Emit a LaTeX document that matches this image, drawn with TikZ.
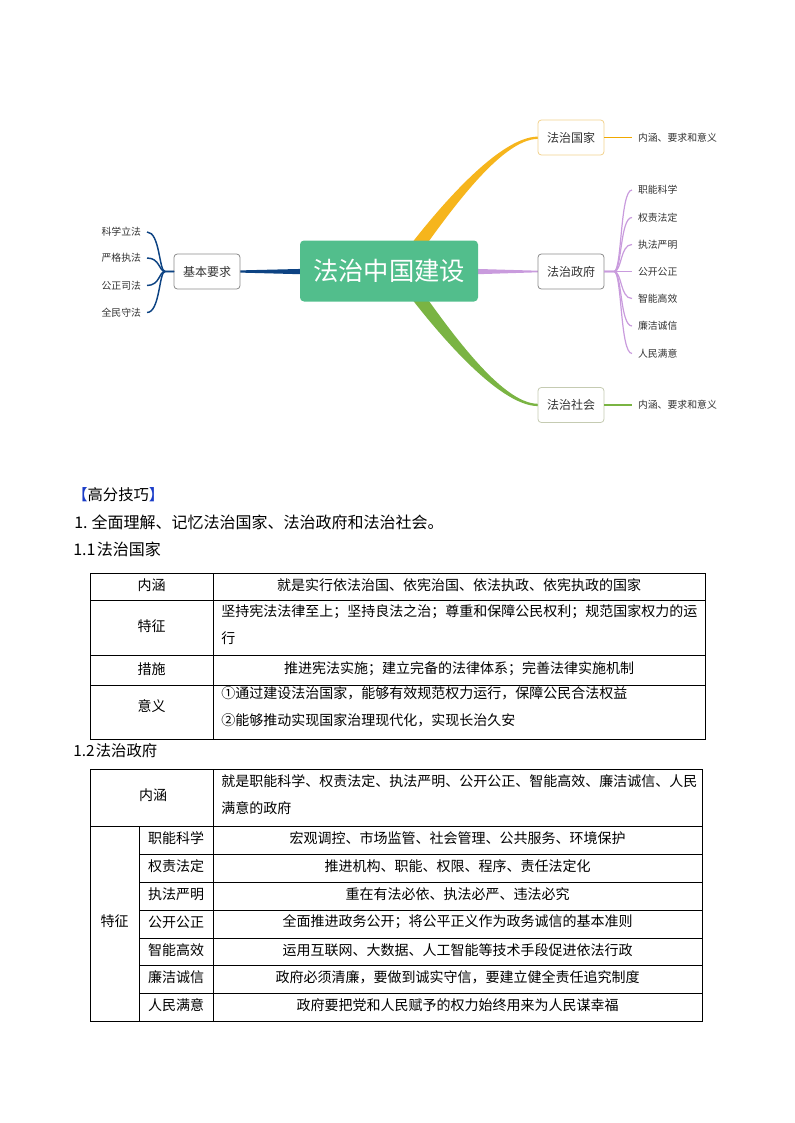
\documentclass[tikz,border=0pt]{standalone}
\usepackage{fontspec}
\setmainfont{Noto Sans CJK SC}
\usetikzlibrary{calc,backgrounds}
\definecolor{cgreen}{HTML}{52BE8C}
\definecolor{byellow}{HTML}{F6B51C}
\definecolor{lyellow}{HTML}{F0A800}
\definecolor{bgreen}{HTML}{7AB443}
\definecolor{bpurple}{HTML}{C99BDD}
\definecolor{bblue}{HTML}{0D4383}
\definecolor{tgray}{HTML}{333333}
\definecolor{boxgray}{HTML}{8C8C8C}
\definecolor{boxyellow}{HTML}{F2D28E}
\definecolor{boxgreen}{HTML}{C5CBB2}
\definecolor{brk}{HTML}{1A3CC8}
\tikzset{
  mmbox/.style={draw, rounded corners=2.5pt, fill=white, minimum width=49.5pt, minimum height=26.25pt,
    inner sep=0pt, outer sep=0pt, font=\fontsize{9}{11}\selectfont, text=tgray, line width=0.6pt},
  leafr/.style={anchor=west, inner xsep=4.5pt, inner ysep=0pt, outer sep=0pt, font=\fontsize{7.4}{9}\selectfont, text=tgray},
  leafl/.style={anchor=east, inner xsep=4.5pt, inner ysep=0pt, outer sep=0pt, font=\fontsize{7.4}{9}\selectfont, text=tgray},
  cell/.style={inner sep=0pt, font=\fontsize{10.5}{13}\selectfont},
  cellw/.style={cell, anchor=west},
  tbl/.style={line width=0.6pt, draw=black},
  head/.style={anchor=west, inner sep=0pt, font=\fontsize{11.5}{13}\selectfont},
  pline/.style={bpurple, line width=0.9pt},
  bline/.style={bblue, line width=1.1pt},
}
\begin{document}
\begin{tikzpicture}[x=0.75pt,y=-0.75pt]
\useasboundingbox (0,0) rectangle (794,1123);

% ---------- mind map nodes ----------
\node[fill=cgreen, rounded corners=3pt, minimum width=133.5pt, minimum height=45.75pt, inner sep=0pt,
      text=white, font=\fontsize{19}{22}\selectfont] (c) at (389,271) {法治中国建设};
\node[mmbox, draw=boxgray] (jb) at (207,271.5) {基本要求};
\node[mmbox, draw=boxyellow] (gj) at (571,137.5) {法治国家};
\node[mmbox, draw=boxgray] (zf) at (571,271.5) {法治政府};
\node[mmbox, draw=boxgreen] (sh) at (571,405) {法治社会};

\node[leafr] (gjl) at (632,137.5) {内涵、要求和意义};
\node[leafr] (shl) at (632,405) {内涵、要求和意义};

\node[leafl] (l1) at (147,232) {科学立法};
\node[leafl] (l2) at (147,258) {严格执法};
\node[leafl] (l3) at (147,285.5) {公正司法};
\node[leafl] (l4) at (147,312.5) {全民守法};

\node[leafr] (p1) at (632,190) {职能科学};
\node[leafr] (p2) at (632,217.5) {权责法定};
\node[leafr] (p3) at (632,244.5) {执法严明};
\node[leafr] (p4) at (632,271.5) {公开公正};
\node[leafr] (p5) at (632,298.5) {智能高效};
\node[leafr] (p6) at (632,326) {廉洁诚信};
\node[leafr] (p7) at (632,353.5) {人民满意};

% ---------- mind map connectors ----------
\begin{scope}[on background layer]
  \fill[byellow] (393,268) .. controls (433,213) and (498,136.6) .. ($(gj.west)+(0,-0.9)$)
     -- ($(gj.west)+(0,1.4)$) .. controls (500,138.9) and (445,218) .. (407,272) -- cycle;
  \fill[bgreen] (393,274) .. controls (433,329) and (498,406.1) .. ($(sh.west)+(0,1.1)$)
     -- ($(sh.west)+(0,-1.2)$) .. controls (500,403.8) and (445,324) .. (407,270) -- cycle;
  \fill[bblue] ($(jb.east)+(0,-1.1)$) -- (315,268.6) -- (315,274.6) -- ($(jb.east)+(0,1.1)$) -- cycle;
  \fill[bpurple] (465,268.6) -- ($(zf.west)+(0,-0.8)$) -- ($(zf.west)+(0,0.8)$) -- (465,274.6) -- cycle;
\end{scope}

\draw[lyellow, line width=1.2pt] (gj.east) -- (gjl.west);
\draw[bgreen, line width=1pt] (sh.east) -- (shl.west);

\draw[pline] (zf.east) -- (p4.west);
\foreach \p in {p1,p2,p3,p5,p6,p7}{
  \draw[pline] (zf.east) -- ++(10,0)
     .. controls ++(8,0) and ($(\p.west)+(-12,0)$) .. (\p.west);
}
\foreach \l in {l1,l2,l3,l4}{
  \draw[bline] (jb.west) -- ++(-9,0)
     .. controls ++(-6,0) and ($(\l.east)+(13,0)$) .. (\l.east);
}

% ---------- headings ----------
\node[head] (h0) at (72,495) {\textcolor{brk}{【}高分技巧\textcolor{brk}{】}};
\node[head, font=\fontsize{12}{14}\selectfont] (h1) at (74,522) {1.\hspace{3pt}全面理解、记忆法治国家、法治政府和法治社会。};
\node[head, font=\fontsize{12}{14}\selectfont] (h2) at (73,549) {1.1\hspace{1pt}法治国家};
\node[head] (h3) at (73,751) {1.2\hspace{1pt}法治政府};

% ---------- table 1 ----------
\draw[tbl] (90,573) rectangle (705,739);
\draw[tbl] (90,600) -- (705,600);
\draw[tbl] (90,655) -- (705,655);
\draw[tbl] (90,685) -- (705,685);
\draw[tbl] (213,573) -- (213,739);
\node[cell] (a1) at (151.5,585.5) {内涵};
\node[cell] (a2) at (459,585.5) {就是实行依法治国、依宪治国、依法执政、依宪执政的国家};
\node[cell] (b1) at (151.5,626.5) {特征};
\node[cellw] (b2) at (221,612) {坚持宪法法律至上；坚持良法之治；尊重和保障公民权利；规范国家权力的运};
\node[cellw] (b3) at (221,638.5) {行};
\node[cell] (c1) at (151.5,669) {措施};
\node[cell] (c2) at (459,669) {推进宪法实施；建立完备的法律体系；完善法律实施机制};
\node[cell] (d1) at (151.5,706) {意义};
\node[cellw] (d2) at (221,693) {①通过建设法治国家，能够有效规范权力运行，保障公民合法权益};
\node[cellw] (d3) at (221,720) {②能够推动实现国家治理现代化，实现长治久安};

% ---------- table 2 ----------
\draw[tbl] (90,769) rectangle (702,1021);
\draw[tbl] (90,826) -- (702,826);
\foreach \yy in {854,882,910,938,965,993}{
  \draw[tbl] (139,\yy) -- (702,\yy);
}
\draw[tbl] (213,769) -- (213,1021);
\draw[tbl] (139,826) -- (139,1021);
\node[cell] (e1) at (153,795) {内涵};
\node[cellw] (e2) at (221,781) {就是职能科学、权责法定、执法严明、公开公正、智能高效、廉洁诚信、人民};
\node[cellw] (e3) at (221,808) {满意的政府};
\node[cell] (f0) at (114.5,921) {特征};
\node[cell] (f1) at (176,838) {职能科学};
\node[cell] (f2) at (176,866) {权责法定};
\node[cell] (f3) at (176,894) {执法严明};
\node[cell] (f4) at (176,922) {公开公正};
\node[cell] (f5) at (176,950) {智能高效};
\node[cell] (f6) at (176,977) {廉洁诚信};
\node[cell] (f7) at (176,1005) {人民满意};
\node[cell] (g1) at (457.5,838) {宏观调控、市场监管、社会管理、公共服务、环境保护};
\node[cell] (g2) at (457.5,866) {推进机构、职能、权限、程序、责任法定化};
\node[cell] (g3) at (457.5,894) {重在有法必依、执法必严、违法必究};
\node[cell] (g4) at (457.5,922) {全面推进政务公开；将公平正义作为政务诚信的基本准则};
\node[cell] (g5) at (457.5,950) {运用互联网、大数据、人工智能等技术手段促进依法行政};
\node[cell] (g6) at (457.5,977) {政府必须清廉，要做到诚实守信，要建立健全责任追究制度};
\node[cell] (g7) at (457.5,1005) {政府要把党和人民赋予的权力始终用来为人民谋幸福};
\end{tikzpicture}
\end{document}
